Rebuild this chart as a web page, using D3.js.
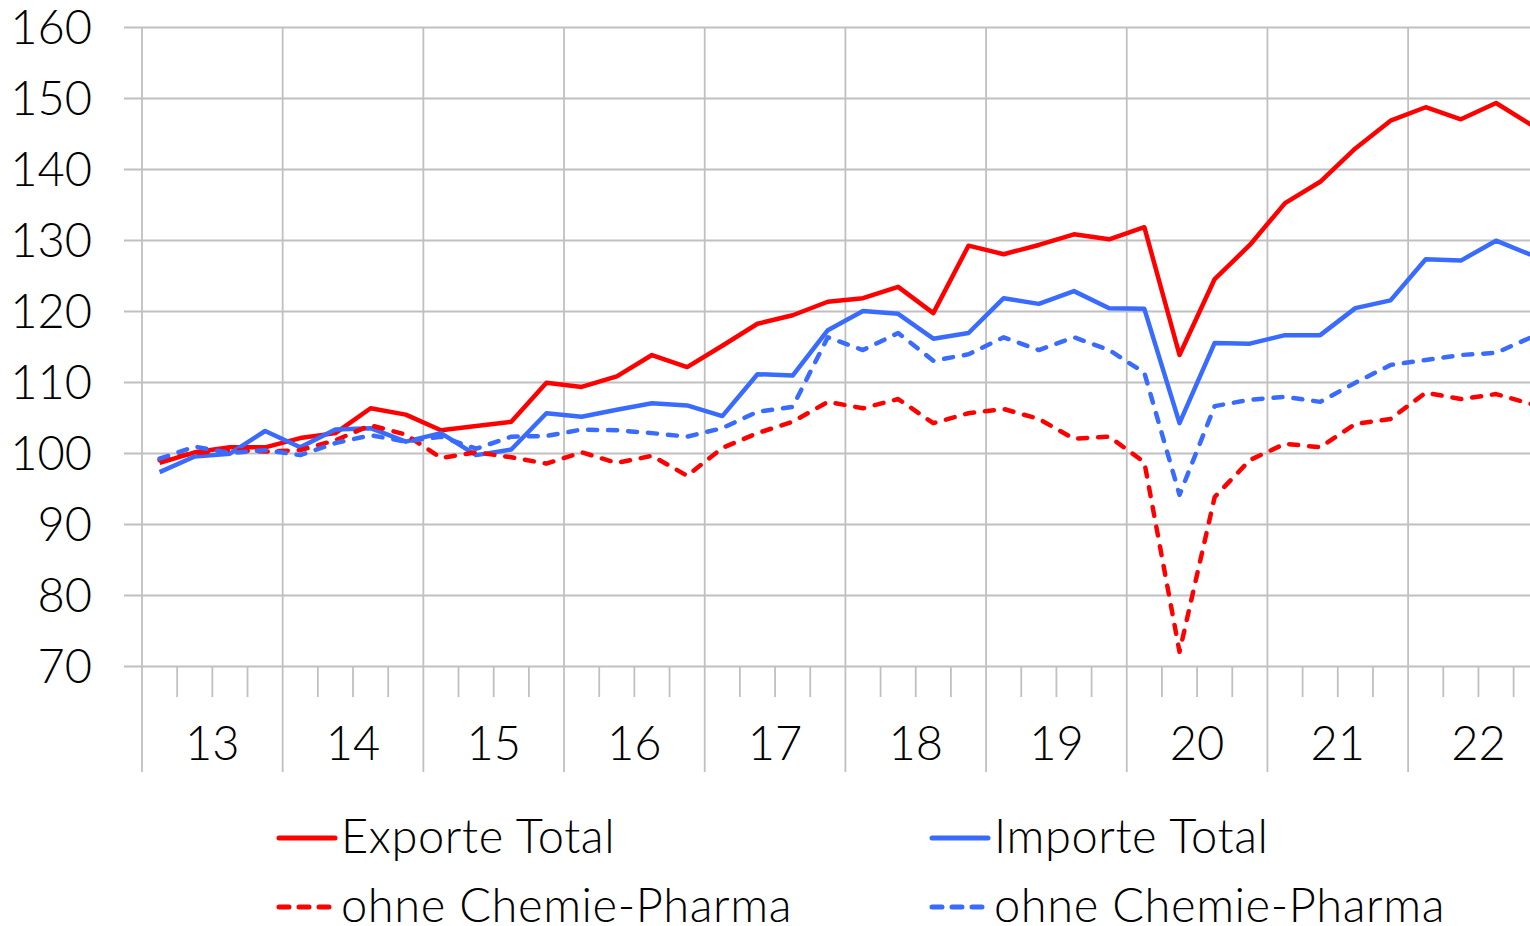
<!DOCTYPE html>
<html>
<head>
<meta charset="utf-8">
<script src="https://cdn.jsdelivr.net/npm/d3@7"></script>
<style>
  body { margin: 0; background: #fff; }
  svg text { font-family: Lato, "Open Sans", sans-serif; font-weight: 300; fill: #000; }
</style>
</head>
<body>
<div id="chart"></div>
<script>
var years = ["13", "14", "15", "16", "17", "18", "19", "20", "21", "22"];
var yTicks = [70, 80, 90, 100, 110, 120, 130, 140, 150, 160];

// quartalswerte 2013 Q1 .. 2022 Q4
var exportTotal = [98.6, 100.1, 100.8, 100.8, 102.1, 102.8, 106.3, 105.4, 103.2, 103.8,
    104.4, 109.9, 109.3, 110.8, 113.8, 112.1, 115.1, 118.2, 119.4, 121.3,
    121.8, 123.4, 119.7, 129.2, 128.0, 129.3, 130.8, 130.1, 131.8, 113.8,
    124.5, 129.3, 135.2, 138.2, 142.9, 146.8, 148.7, 147.0, 149.3, 146.2];
var importTotal = [97.3, 99.5, 99.9, 103.1, 100.8, 103.3, 103.5, 101.6, 102.8, 99.7,
    100.5, 105.6, 105.1, 106.1, 107.0, 106.7, 105.2, 111.1, 110.9, 117.3,
    120.0, 119.6, 116.1, 116.9, 121.8, 121.0, 122.8, 120.4, 120.3, 104.2,
    115.5, 115.4, 116.6, 116.6, 120.4, 121.5, 127.3, 127.1, 129.9, 127.9];
var exportOhne = [99.0, 100.0, 100.4, 100.2, 100.4, 101.8, 103.9, 102.6, 99.3, 100.1,
    99.4, 98.5, 100.1, 98.6, 99.6, 96.8, 100.7, 102.8, 104.4, 107.2,
    106.3, 107.6, 104.2, 105.6, 106.2, 104.8, 102.0, 102.3, 98.7, 72.0,
    93.8, 99.0, 101.3, 100.8, 104.1, 104.8, 108.5, 107.6, 108.3, 106.9];
var importOhne = [99.2, 100.9, 100.0, 100.4, 99.7, 101.4, 102.5, 101.6, 102.3, 100.6,
    102.3, 102.4, 103.3, 103.2, 102.8, 102.3, 103.5, 105.8, 106.5, 116.3,
    114.5, 116.9, 113.0, 113.9, 116.3, 114.5, 116.3, 114.5, 111.3, 94.1,
    106.6, 107.5, 107.9, 107.2, 109.9, 112.4, 113.1, 113.8, 114.1, 116.3];

var series = [
    { name: "Exporte Total", values: exportTotal, color: "#ff0000", dash: null },
    { name: "Importe Total", values: importTotal, color: "#3a6bff", dash: null },
    { name: "ohne Chemie-Pharma", values: exportOhne, color: "#ff0000", dash: "9,11" },
    { name: "ohne Chemie-Pharma", values: importOhne, color: "#3a6bff", dash: "9,11" }
];

var width = 1530;
var height = 926;
var gridLeft = 124;
var plotLeft = 142;
var plotRight = 1530;
var nQ = exportTotal.length;
var qWidth = 35.17;
var fontSize = "47px";

var svg = d3.select("#chart")
    .append("svg")
    .attr("width", width)
    .attr("height", height);

var x = d3.scaleLinear()
    .domain([0, nQ])
    .range([plotLeft, plotLeft + nQ * qWidth]);
var y = d3.scaleLinear()
    .domain([70, 160])
    .range([666, 27]);

svg.append("clipPath")
    .attr("id", "plotClip")
    .append("rect")
    .attr("x", 0)
    .attr("y", 0)
    .attr("width", plotRight)
    .attr("height", height);

// y achse mit gitterlinien
var yAxis = svg.append("g")
    .attr("transform", "translate(" + gridLeft + ",0)")
    .call(d3.axisLeft(y)
        .tickValues(yTicks)
        .tickSize(-(plotRight - gridLeft))
        .tickPadding(32));
yAxis.select(".domain").remove();
yAxis.selectAll("line").attr("stroke", "#c0c0c0").attr("stroke-width", 1.8);
yAxis.selectAll("text")
    .style("font-size", fontSize)
    .attr("dy", "0.36em");

// jahresgrenzen
svg.append("g")
    .selectAll("line")
    .data(d3.range(0, nQ, 4))
    .enter()
    .append("line")
    .attr("x1", function(d) { return x(d); })
    .attr("x2", function(d) { return x(d); })
    .attr("y1", y(160))
    .attr("y2", 772)
    .attr("stroke", "#c0c0c0")
    .attr("stroke-width", 1.8);

// quartalsticks
svg.append("g")
    .selectAll("line")
    .data(d3.range(1, nQ).filter(function(d) { return d % 4 != 0; }))
    .enter()
    .append("line")
    .attr("x1", function(d) { return x(d); })
    .attr("x2", function(d) { return x(d); })
    .attr("y1", y(70))
    .attr("y2", 697)
    .attr("stroke", "#c0c0c0")
    .attr("stroke-width", 1.8)
    .attr("clip-path", "url(#plotClip)");

svg.append("g")
    .selectAll("text")
    .data(years)
    .enter()
    .append("text")
    .attr("x", function(d, i) { return x(i * 4 + 2); })
    .attr("y", 760)
    .attr("text-anchor", "middle")
    .style("font-size", fontSize)
    .text(function(d) { return d; });

var line = d3.line()
    .x(function(d, i) { return x(i + 0.5); })
    .y(function(d) { return y(d); });

svg.append("g")
    .attr("clip-path", "url(#plotClip)")
    .selectAll("path")
    .data(series)
    .enter()
    .append("path")
    .attr("d", function(d) { return line(d.values); })
    .attr("fill", "none")
    .attr("stroke", function(d) { return d.color; })
    .attr("stroke-width", 4.5)
    .attr("stroke-linejoin", "round")
    .attr("stroke-linecap", function(d) { return d.dash ? "round" : "butt"; })
    .attr("stroke-dasharray", function(d) { return d.dash; });

// legende
var legendPos = [[277, 838], [930, 838], [277, 907], [930, 907]];
var legend = svg.append("g")
    .selectAll("g")
    .data(series)
    .enter()
    .append("g")
    .attr("transform", function(d, i) { return "translate(" + legendPos[i][0] + "," + legendPos[i][1] + ")"; });

legend.append("line")
    .attr("x1", 2)
    .attr("x2", 58)
    .attr("y1", 0)
    .attr("y2", 0)
    .attr("stroke", function(d) { return d.color; })
    .attr("stroke-width", 5)
    .attr("stroke-linecap", "round")
    .attr("stroke-dasharray", function(d) { return d.dash ? "10,10" : null; });

legend.append("text")
    .attr("x", 64)
    .attr("y", 15)
    .style("font-size", fontSize)
    .style("letter-spacing", "0.6px")
    .text(function(d) { return d.name; });
</script>
</body>
</html>
